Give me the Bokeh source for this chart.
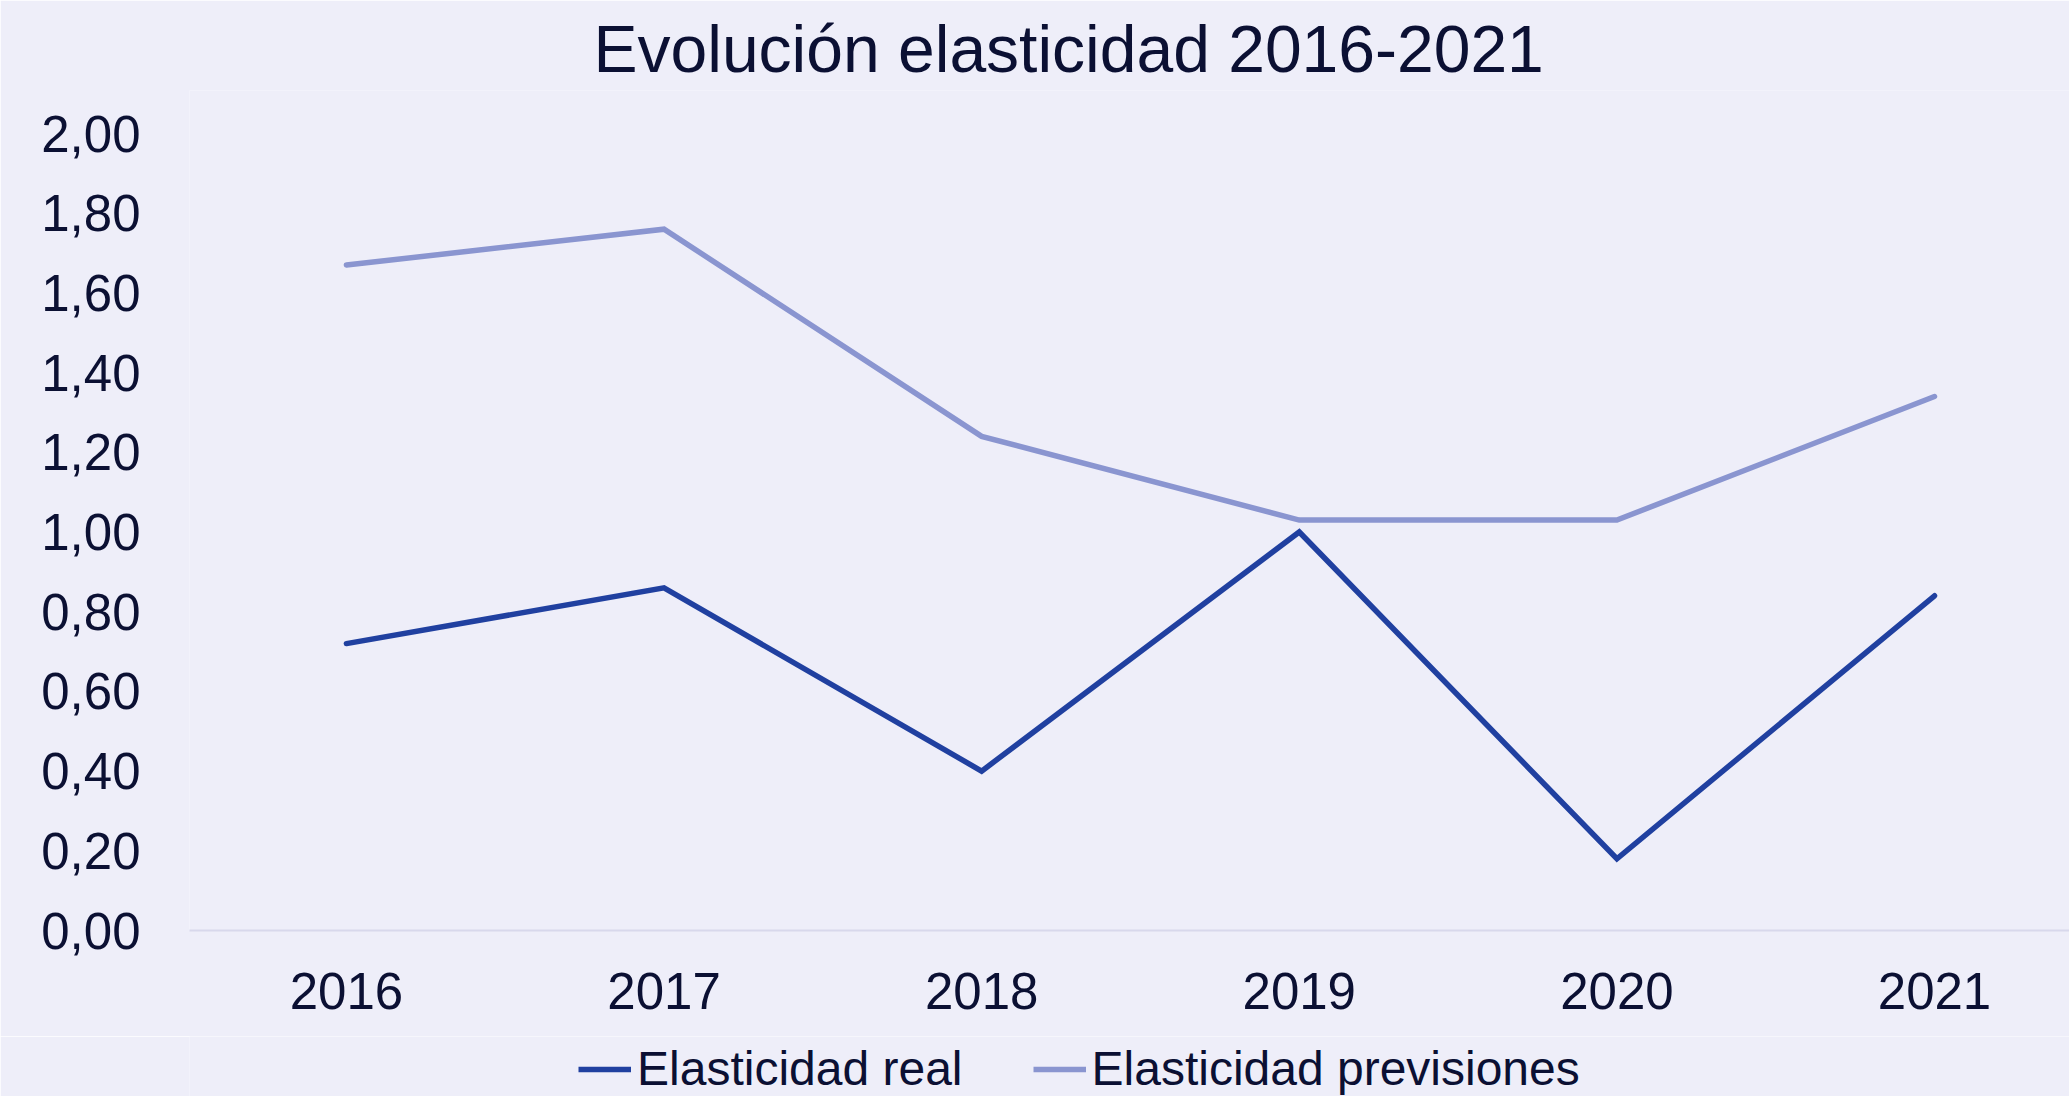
from bokeh.plotting import figure
from bokeh.layouts import column
from bokeh.models import Range1d, FixedTicker, CustomJSTickFormatter, Legend, LegendItem
from bokeh.embed import file_html
from bokeh.resources import INLINE

years = ["2016", "2017", "2018", "2019", "2020", "2021"]
elasticidad_real = [0.72, 0.86, 0.40, 1.00, 0.18, 0.84]
elasticidad_previsiones = [1.67, 1.76, 1.24, 1.03, 1.03, 1.34]
y_ticks = [0.0, 0.2, 0.4, 0.6, 0.8, 1.0, 1.2, 1.4, 1.6, 1.8, 2.0]
series_names = ["Elasticidad real", "Elasticidad previsiones"]

BG = "#EEEEF9"
TXT = "#0B1033"
C_REAL = "#2040A0"
C_PREV = "#8A95D0"
FONT = "Liberation Sans"

x = list(range(len(years)))

H1 = 1036
p = figure(width=2069, height=H1, output_backend="svg", toolbar_location=None,
           x_range=Range1d(-0.494, 5.425), y_range=Range1d(0, 2.108),
           min_border=0, min_border_left=189, min_border_right=0,
           min_border_top=90, min_border_bottom=H1 - 930,
           title="Evolución elasticidad 2016-2021")
p.background_fill_color = BG
p.border_fill_color = BG
p.outline_line_color = None
p.grid.visible = False

p.title.align = "left"
p.title.offset = 404
p.title.text_font = FONT
p.title.text_font_size = "66px"
p.title.text_font_style = "normal"
p.title.text_color = TXT

p.line(x, elasticidad_real, line_color=C_REAL, line_width=5.5,
       line_cap="round", line_join="miter")
p.line(x, elasticidad_previsiones, line_color=C_PREV, line_width=5.5,
       line_cap="round", line_join="miter")

p.yaxis.ticker = FixedTicker(ticks=y_ticks)
p.yaxis.formatter = CustomJSTickFormatter(code="return tick.toFixed(2).replace('.', ',');")
p.yaxis.axis_line_color = None
p.yaxis.major_tick_line_color = None
p.yaxis.minor_tick_line_color = None
p.yaxis.major_label_standoff = 43
p.yaxis.major_label_text_font = FONT
p.yaxis.major_label_text_font_size = "51px"
p.yaxis.major_label_text_color = TXT

p.xaxis.ticker = FixedTicker(ticks=x)
p.xaxis.major_label_overrides = {i: y for i, y in enumerate(years)}
p.xaxis.axis_line_color = "#D8D8EC"
p.xaxis.axis_line_width = 2
p.xaxis.major_tick_line_color = None
p.xaxis.minor_tick_line_color = None
p.xaxis.major_label_standoff = 36
p.xaxis.major_label_text_font = FONT
p.xaxis.major_label_text_font_size = "51px"
p.xaxis.major_label_text_color = TXT

# legend strip below the chart (its own renderers sit outside the visible range)
H2 = 1096 - H1
p2 = figure(width=2069, height=H2, output_backend="svg", toolbar_location=None,
            x_range=Range1d(1000, 3000), y_range=Range1d(0, H2),
            x_axis_location=None, y_axis_location=None, min_border=0)
p2.background_fill_color = BG
p2.border_fill_color = BG
p2.outline_line_color = None
p2.grid.visible = False
g1 = p2.line(x, elasticidad_real, line_color=C_REAL, line_width=5.5)
g2 = p2.line(x, elasticidad_previsiones, line_color=C_PREV, line_width=5.5)

legend = Legend(items=[LegendItem(label=series_names[0], renderers=[g1]),
                       LegendItem(label=series_names[1], renderers=[g2])],
                orientation="horizontal", location=(389, 0),
                glyph_width=53, glyph_height=20, label_standoff=6, spacing=70,
                padding=0, margin=0, border_line_color=None, background_fill_alpha=0,
                label_text_font=FONT, label_text_font_size="48px", label_text_color=TXT)
p2.add_layout(legend, "center")

layout = column(p, p2, spacing=0)
open("out.html", "w").write(file_html(layout, INLINE))
